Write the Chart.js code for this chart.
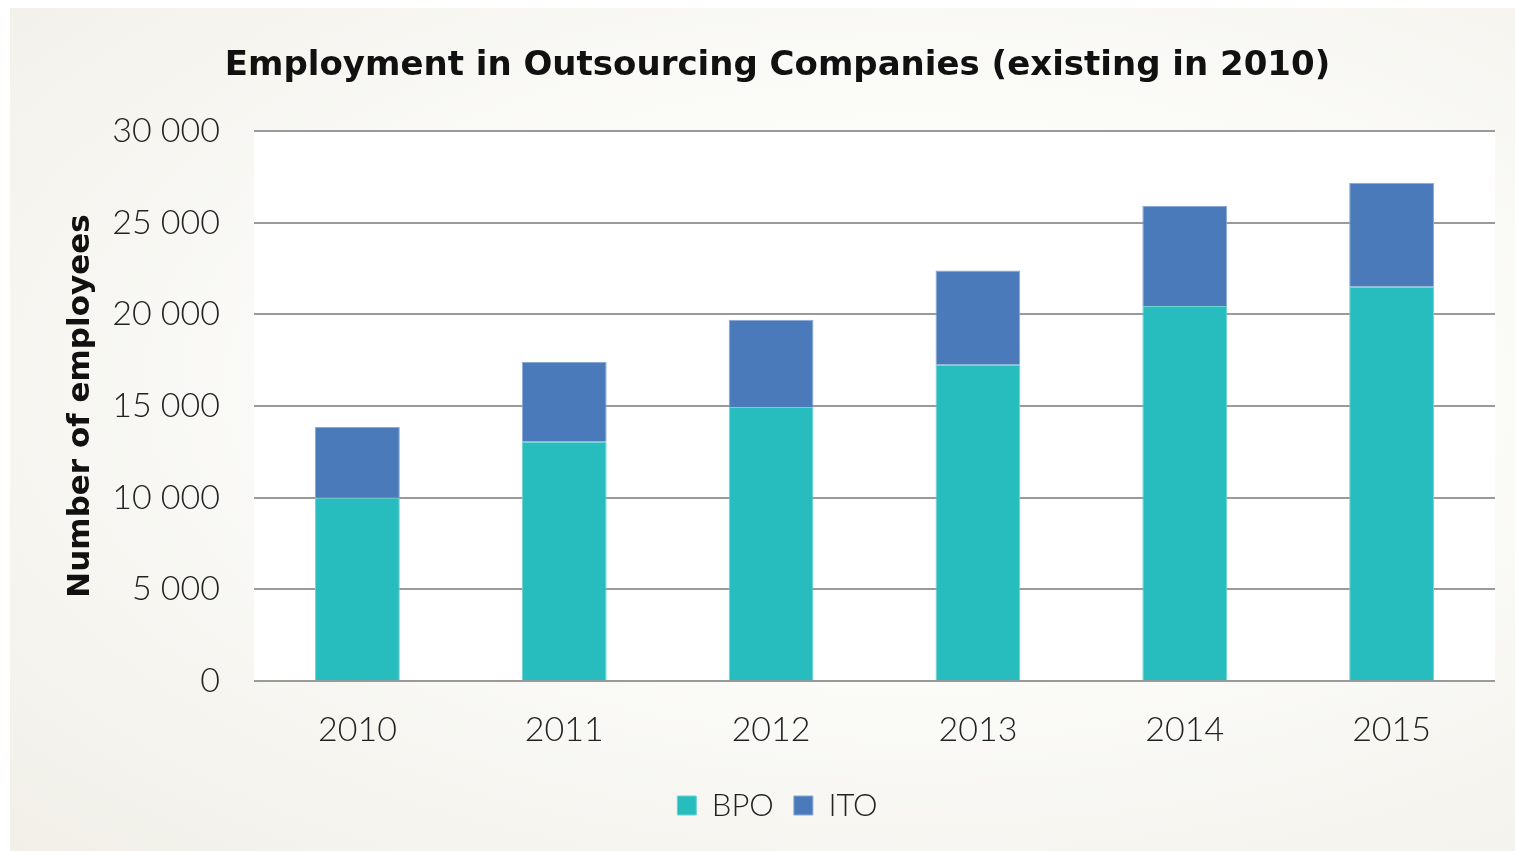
<!DOCTYPE html>
<html>
<head>
<meta charset="utf-8">
<script src="https://cdn.jsdelivr.net/npm/chart.js@4"></script>
<style>
    html, body { margin: 0; padding: 0; background: #ffffff; }
    #frame {
        position: absolute; left: 10px; top: 8px; width: 1505px; height: 843px;
        background: radial-gradient(ellipse at 60% 45%, #ffffff 0%, #fbfbf8 45%, #f1efe8 100%);
    }
    #wrap { position: absolute; left: 0; top: 0; width: 1515px; height: 851px; }
</style>
</head>
<body>
<div id="frame"></div>
<div id="wrap"><canvas id="chart"></canvas></div>
<script>
const years = ['2010', '2011', '2012', '2013', '2014', '2015'];
const bpo = [10000, 13050, 14950, 17250, 20450, 21500];
const ito = [3850, 4350, 4750, 5130, 5450, 5670];
const yTicks = [0, 5000, 10000, 15000, 20000, 25000, 30000];

const plotBackground = {
    id: 'plotBackground',
    beforeDraw: function (chart) {
        const a = chart.chartArea;
        const ctx = chart.ctx;
        ctx.save();
        ctx.fillStyle = '#ffffff';
        ctx.fillRect(a.left, a.top, a.right - a.left, a.bottom - a.top);
        ctx.restore();
    }
};

const ctx = document.getElementById('chart').getContext('2d');

new Chart(ctx, {
    type: 'bar',
    data: {
        labels: years,
        datasets: [
            {
                label: 'BPO',
                data: bpo,
                backgroundColor: '#27bdbe',
                borderColor: '#6fd3d3',
                borderWidth: 1,
                barPercentage: 0.41,
                categoryPercentage: 1
            },
            {
                label: 'ITO',
                data: ito,
                backgroundColor: '#4a7aba',
                borderColor: '#8aa8d6',
                borderWidth: 1,
                barPercentage: 0.41,
                categoryPercentage: 1
            }
        ]
    },
    options: {
        responsive: true,
        maintainAspectRatio: false,
        animation: false,
        layout: {
            padding: { left: 60, right: 20, top: 46, bottom: 20 }
        },
        plugins: {
            title: {
                display: true,
                text: 'Employment in Outsourcing Companies (existing in 2010)',
                color: '#111111',
                font: { family: 'DejaVu Sans', size: 34, weight: 'bold' },
                padding: { top: 0, bottom: 44 }
            },
            legend: {
                position: 'bottom',
                labels: {
                    color: '#222222',
                    font: { family: 'Lato', size: 31, weight: '300' },
                    boxWidth: 19,
                    boxHeight: 19,
                    padding: 20
                }
            },
            tooltip: { enabled: false }
        },
        scales: {
            x: {
                stacked: true,
                grid: { display: false },
                border: { display: false },
                ticks: {
                    color: '#222222',
                    font: { family: 'Lato', size: 34, weight: '300' },
                    padding: 20
                }
            },
            y: {
                stacked: true,
                min: 0,
                max: 30000,
                afterBuildTicks: function (axis) {
                    axis.ticks = yTicks.map(function (v) { return { value: v }; });
                },
                afterFit: function (axis) {
                    axis.width = 194;
                },
                grid: {
                    color: '#9a9a9a',
                    lineWidth: 2,
                    drawTicks: false
                },
                border: { display: false },
                title: {
                    display: true,
                    text: 'Number of employees',
                    color: '#111111',
                    font: { family: 'DejaVu Sans', size: 31, weight: 'bold' },
                    padding: { top: 2, bottom: 4 }
                },
                ticks: {
                    color: '#222222',
                    font: { family: 'Lato', size: 34, weight: '300' },
                    padding: 34,
                    callback: function (value) {
                        return value === 0 ? '0' : Number(value).toLocaleString('en-US').replace(',', ' ');
                    }
                }
            }
        }
    },
    plugins: [plotBackground]
});
</script>
</body>
</html>
